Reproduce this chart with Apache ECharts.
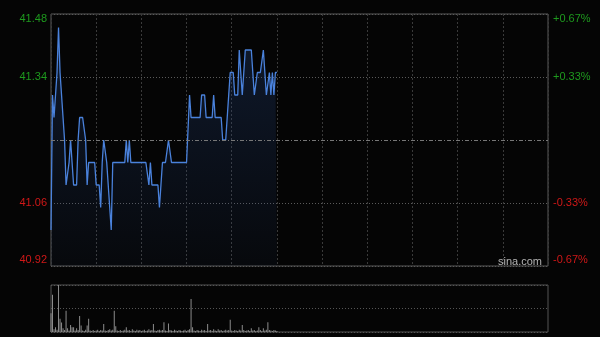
<!DOCTYPE html>
<html>
<head>
<meta charset="utf-8">
<script src="https://cdn.jsdelivr.net/npm/echarts@6/dist/echarts.min.js"></script>
<style>
html,body{margin:0;padding:0;background:#050505;}
#c{width:600px;height:337px;}
</style>
</head>
<body>
<div id="c"></div>
<script>
// ---- data ----
const prevClose = 41.20;
const prices = [
41.00,41.30,41.25,41.25,41.35,41.45,41.35,41.30,41.30,41.20,
41.10,41.10,41.15,41.20,41.15,41.10,41.10,41.10,41.20,41.25,
41.25,41.25,41.25,41.20,41.10,41.15,41.15,41.15,41.15,41.15,
41.10,41.10,41.10,41.05,41.15,41.20,41.20,41.15,41.15,41.05,
41.00,41.15,41.15,41.15,41.15,41.15,41.15,41.15,41.15,41.15,
41.20,41.15,41.20,41.15,41.15,41.15,41.15,41.15,41.15,41.15,
41.15,41.15,41.15,41.15,41.15,41.10,41.15,41.10,41.10,41.10,
41.10,41.10,41.05,41.10,41.15,41.15,41.15,41.15,41.20,41.20,
41.15,41.15,41.15,41.15,41.15,41.15,41.15,41.15,41.15,41.15,
41.15,41.15,41.30,41.25,41.25,41.25,41.25,41.25,41.25,41.25,
41.30,41.30,41.30,41.25,41.25,41.25,41.25,41.25,41.30,41.25,
41.25,41.25,41.25,41.25,41.20,41.20,41.20,41.25,41.30,41.35,
41.35,41.35,41.30,41.30,41.30,41.40,41.35,41.30,41.35,41.40,
41.40,41.40,41.40,41.40,41.35,41.30,41.30,41.35,41.35,41.35,
41.35,41.40,41.35,41.30,41.30,41.35,41.30,41.35,41.30,41.35,
41.35
];
const volumes = [
40,79,6,10,5,100,28,20,8,4,
45,8,3,15,10,10,3,8,4,34,
14,3,2,5,14,28,3,2,4,2,
3,5,2,4,3,17,3,2,4,6,
3,5,45,12,3,2,4,2,3,5,
10,3,4,2,6,3,2,5,3,4,
2,3,5,2,3,6,3,4,17,3,
2,4,5,3,4,21,3,2,18,4,
3,2,5,3,2,4,3,2,3,5,
2,4,6,70,10,3,2,4,3,2,
5,3,4,2,17,3,4,2,6,3,
2,6,3,4,2,3,5,3,4,26,
3,2,4,3,2,5,3,15,4,2,
3,4,2,8,3,4,2,3,10,4,
2,8,3,5,21,4,3,2,4,3,
2
];
const leftTicks = ['40.92','41.06','','41.34','41.48'];
const rightTicks = ['-0.67%','-0.33%','','+0.33%','+0.67%'];
const sessionMinutes = 330;

// ---- build series ----
const priceData = prices.map((p, i) => [i, Math.round((p - prevClose) * 100)]);
const volData = volumes.map((v, i) => [i, v]);

const GREEN = '#1e9a1e', RED = '#d01818';
function labelFmt(ticks) {
  return function (v) {
    const k = Math.round((v + 28) / 14);
    const t = ticks[k];
    if (!t) return '';
    if (k === 4) return '{gt|' + t + '}';
    if (k === 3) return '{g|' + t + '}';
    if (k === 1) return '{r|' + t + '}';
    return '{rb|' + t + '}';
  };
}
const richStyles = {
  gt: {color: GREEN, fontSize: 11, fontFamily: 'Liberation Sans, Arial', padding: [10, 0, 0, 0]},
  g:  {color: GREEN, fontSize: 11, fontFamily: 'Liberation Sans, Arial'},
  r:  {color: RED, fontSize: 11, fontFamily: 'Liberation Sans, Arial'},
  rb: {color: RED, fontSize: 11, fontFamily: 'Liberation Sans, Arial', padding: [0, 0, 12, 0]}
};

const chart = echarts.init(document.getElementById('c'), null, {renderer: 'canvas'});
chart.setOption({
  animation: false,
  backgroundColor: '#050505',
  grid: [
    {left: 51, top: 14, width: 497, height: 252, show: true, borderColor: '#5a5a5a', borderWidth: 1, containLabel: false},
    {left: 51, top: 285, width: 497, height: 47, show: true, borderColor: '#555', borderWidth: 1, containLabel: false}
  ],
  xAxis: [
    {type: 'value', gridIndex: 0, min: 0, max: sessionMinutes, interval: 30,
     axisLine: {show: false}, axisTick: {show: false}, axisLabel: {show: false},
     splitLine: {show: true, lineStyle: {color: '#3a3a3a', type: [2, 2], width: 1}}},
    {type: 'value', gridIndex: 1, min: 0, max: sessionMinutes, interval: 30,
     axisLine: {show: false}, axisTick: {show: false}, axisLabel: {show: false},
     splitLine: {show: false}}
  ],
  yAxis: [
    {type: 'value', gridIndex: 0, position: 'left', min: -28, max: 28, interval: 14,
     axisLine: {show: false}, axisTick: {show: false},
     axisLabel: {margin: 4, formatter: labelFmt(leftTicks), rich: richStyles},
     splitLine: {show: true, lineStyle: {color: '#5a5a5a', type: [1, 2], width: 1}}},
    {type: 'value', gridIndex: 0, position: 'right', min: -28, max: 28, interval: 14,
     axisLine: {show: false}, axisTick: {show: false},
     axisLabel: {margin: 5, formatter: labelFmt(rightTicks), rich: richStyles},
     splitLine: {show: false}},
    {type: 'value', gridIndex: 1, min: 0, max: 100, interval: 50,
     axisLine: {show: false}, axisTick: {show: false}, axisLabel: {show: false},
     splitLine: {show: true, lineStyle: {color: '#555', type: [1, 2], width: 1}}}
  ],
  series: [
    {type: 'line', xAxisIndex: 0, yAxisIndex: 0, data: priceData, symbol: 'none',
     lineStyle: {color: '#4a82dc', width: 1.3},
     areaStyle: {origin: 'start', color: new echarts.graphic.LinearGradient(0, 0, 0, 1, [
       {offset: 0, color: 'rgba(40,75,140,0.42)'},
       {offset: 1, color: 'rgba(40,75,140,0.08)'}
     ])},
     markLine: {silent: true, symbol: 'none', label: {show: false},
       lineStyle: {color: '#777', type: [4, 2, 1, 2], width: 1},
       data: [{yAxis: 0}]}
    },
    {type: 'bar', xAxisIndex: 1, yAxisIndex: 2, data: volData, barWidth: 1,
     itemStyle: {color: '#8c8c8c'}}
  ],
  graphic: [
    {type: 'text', left: 498, top: 256,
     style: {text: 'sina.com', fill: '#b4b4b4', font: '11px "Liberation Sans", Arial'}}
  ]
});
</script>
</body>
</html>
